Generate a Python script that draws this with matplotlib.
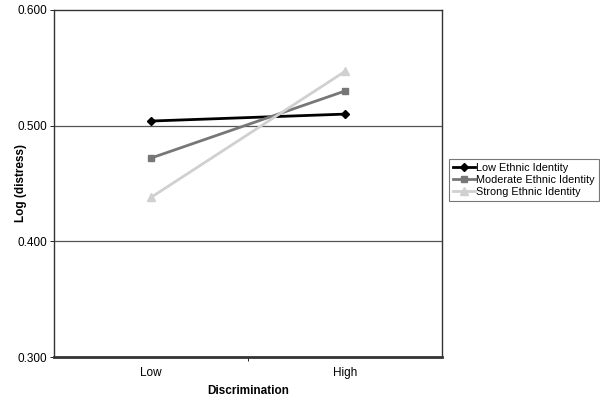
import matplotlib
matplotlib.use("Agg")
import matplotlib.pyplot as plt

plt.rcParams['font.family'] = ['Liberation Sans', 'DejaVu Sans']

categories = ["Low", "High"]
series_names = ["Low Ethnic Identity", "Moderate Ethnic Identity", "Strong Ethnic Identity"]
low_identity = [0.504, 0.510]
moderate_identity = [0.472, 0.530]
strong_identity = [0.438, 0.547]
yticks = [0.300, 0.400, 0.500, 0.600]

fs = 8.5
fig = plt.figure(figsize=(6, 4), dpi=100)
ax = fig.add_axes([0.09, 0.1075, 0.647, 0.8675])

x = [0.5, 1.5]
ax.plot(x, low_identity, color="#000000", lw=2.0, marker="D", ms=4.5, label=series_names[0])
ax.plot(x, moderate_identity, color="#777777", lw=2.0, marker="s", ms=5, label=series_names[1])
ax.plot(x, strong_identity, color="#d0d0d0", lw=2.0, marker="^", ms=6, label=series_names[2])

ax.set_xlim(0, 2)
ax.set_ylim(0.3, 0.6)
ax.set_yticks(yticks)
ax.set_yticklabels([f"{v:.3f}" for v in yticks], fontsize=fs)
ax.set_xticks([1.0])
ax.set_xticklabels([""])
for xi, c in zip(x, categories):
    ax.text(xi, -0.045, c, transform=ax.get_xaxis_transform(), ha="center", va="center", fontsize=fs)
ax.tick_params(axis="x", length=3, width=0.6, direction="out")
ax.tick_params(axis="y", length=3, width=0.6, direction="out", pad=2)

for v in [0.4, 0.5]:
    ax.axhline(v, color="#555555", lw=0.9, zorder=0)

for s in ["left", "right", "top"]:
    ax.spines[s].set_linewidth(1.0)
    ax.spines[s].set_color("#333333")
ax.spines["bottom"].set_linewidth(2.0)
ax.spines["bottom"].set_color("#333333")

ax.set_ylabel("Log (distress)", fontsize=fs, fontweight="bold")
ax.yaxis.set_label_coords(-0.07, 0.5)
ax.set_xlabel("Discrimination", fontsize=fs, fontweight="bold")
ax.xaxis.set_label_coords(0.5, -0.08)

leg = ax.legend(loc="center left", bbox_to_anchor=(1.018, 0.51), fontsize=7.8, frameon=True,
                fancybox=False, edgecolor="#555555", handlelength=2.0, borderpad=0.35,
                labelspacing=0.2, handletextpad=0.15, borderaxespad=0)
leg.get_frame().set_linewidth(0.8)

fig.savefig("out.png", dpi=100)
